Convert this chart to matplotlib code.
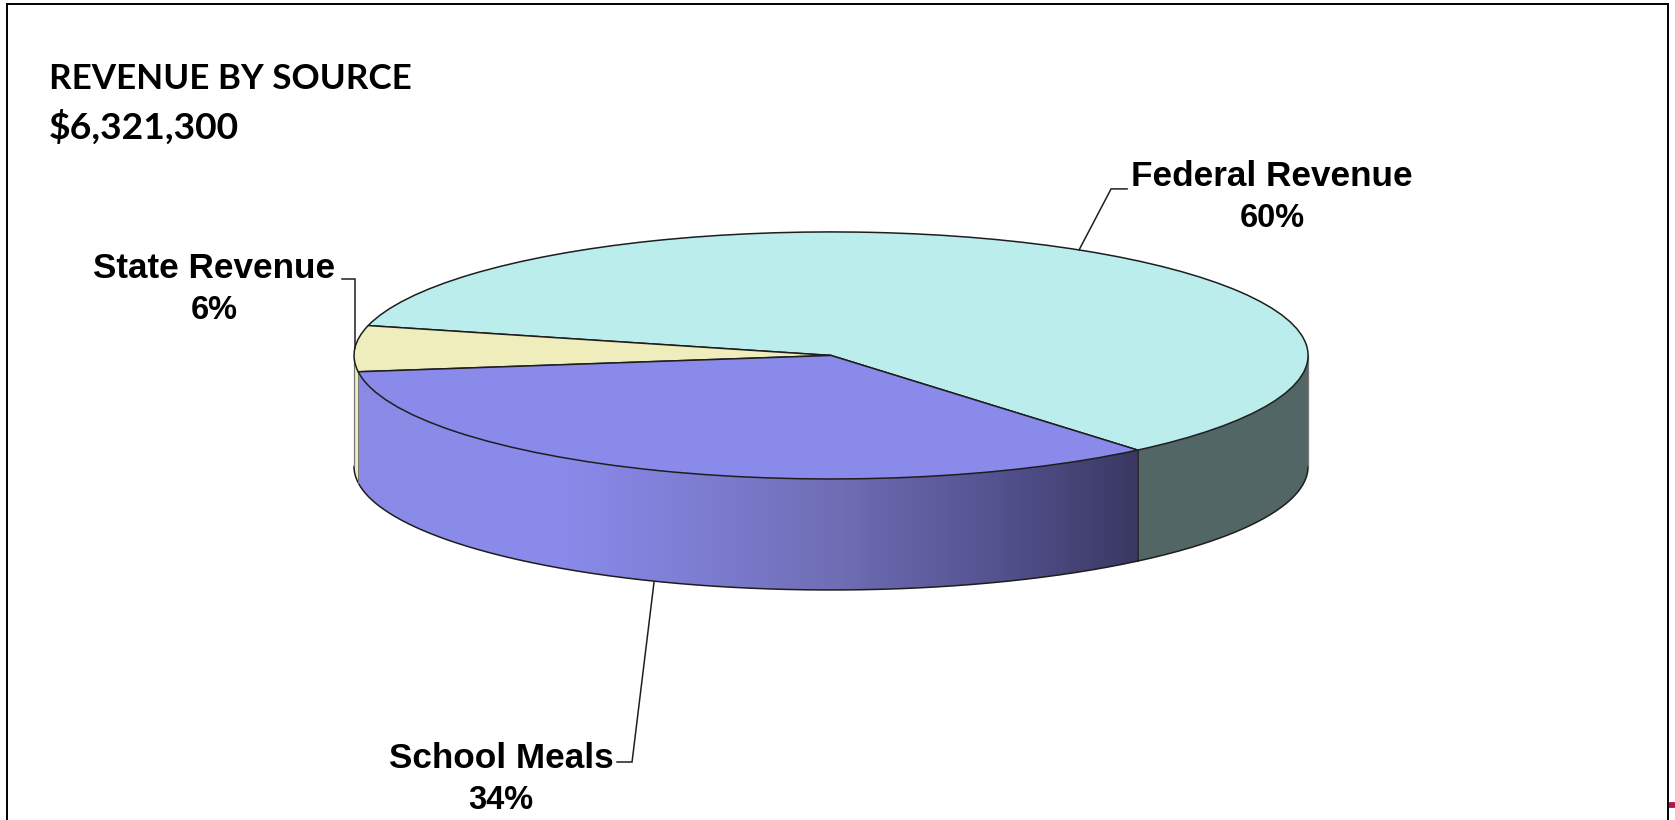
import numpy as np
import matplotlib.pyplot as plt
from matplotlib.colors import LinearSegmentedColormap
from matplotlib.patches import Polygon

labels = ['Federal Revenue', 'State Revenue', 'School Meals']
shares = [60, 6, 34]
top_colors = ['#BBEDED', '#EEEDBB', '#8A8AEB']
title_lines = ['REVENUE BY SOURCE', '$6,321,300']

W, H = 1675, 820
START_ANGLE = -50
cx, cy = 831, 355.5
rx, ry = 477, 123.5
depth = 111

fig = plt.figure(figsize=((W + 0.1) / 100, (H + 0.1) / 100), dpi=100, facecolor='white')

# pixel-space axes for the side wall, frame, leaders and text
ax = fig.add_axes([0, 0, 1, 1])
ax.set_xlim(0, W)
ax.set_ylim(H, 0)
ax.axis('off')


def wall_outline(a0, a1):
    t = np.radians(np.linspace(a0, a1, 200))
    x = cx + rx * np.cos(t)
    y = cy - ry * np.sin(t)
    return np.r_[x, x[::-1]], np.r_[y, y[::-1] + depth]


# slice boundaries come from the shares
edges = START_ANGLE + np.cumsum([0] + shares) * 3.6
fed_end, state_end, meals_end = edges[1], edges[2], edges[3]

# federal wall, flat dark teal
x, y = wall_outline(START_ANGLE, 0)
ax.add_patch(Polygon(np.c_[x, y], closed=True, fc='#526665', ec='none', zorder=2))

# state wall, only a sliver is visible on the left
x, y = wall_outline(180, state_end)
ax.add_patch(Polygon(np.c_[x, y], closed=True, fc='#EEEDBB', ec='none', zorder=2))

# school meals wall with a horizontal shade
x, y = wall_outline(state_end, meals_end)
meals_poly = Polygon(np.c_[x, y], closed=True, fc='none', ec='none', zorder=2)
ax.add_patch(meals_poly)
shade = LinearSegmentedColormap.from_list('meals', [
    (0.00, '#8A8AE6'), (0.25, '#8B8BEC'), (0.40, '#8080D8'),
    (0.62, '#6F6DB4'), (0.82, '#54528F'), (1.00, '#3A3862')])
img = ax.imshow(np.linspace(0, 1, 512)[None, :], cmap=shade, aspect='auto',
                extent=[x.min(), x.max(), y.max(), y.min()], zorder=2)
img.set_clip_path(meals_poly)
ax.set_xlim(0, W)
ax.set_ylim(H, 0)

# wall outlines
t = np.radians(np.linspace(180, 360, 400))
ax.plot(cx + rx * np.cos(t), cy - ry * np.sin(t) + depth, color='#1E1E1E', lw=1.1, zorder=3)
ax.plot([cx - rx, cx - rx], [cy, cy + depth], color='#777777', lw=0.9, zorder=3)
ax.plot([cx + rx, cx + rx], [cy, cy + depth], color='#777777', lw=0.9, zorder=3)
bx = cx + rx * np.cos(np.radians(START_ANGLE))
by = cy - ry * np.sin(np.radians(START_ANGLE))
ax.plot([bx, bx], [by, by + depth], color='#1E1E1E', lw=1.1, zorder=3)
sx = cx + rx * np.cos(np.radians(state_end))
sy = cy - ry * np.sin(np.radians(state_end))
ax.plot([sx, sx], [sy, sy + depth], color='#777777', lw=0.7, zorder=3)

# top face: a pie stretched into the ellipse box
pie_ax = fig.add_axes([(cx - rx) / W, 1 - (cy + ry) / H, 2 * rx / W, 2 * ry / H])
pie_ax.pie(shares, colors=top_colors, startangle=START_ANGLE, counterclock=True,
           radius=1, wedgeprops=dict(edgecolor='#1E1E1E', linewidth=1.1))
pie_ax.set_aspect('auto')
pie_ax.set_xlim(-1, 1)
pie_ax.set_ylim(-1, 1)
pie_ax.patch.set_alpha(0)
for art in pie_ax.patches:
    art.set_clip_on(False)

# overlay for text and frame
top = fig.add_axes([0, 0, 1, 1])
top.set_xlim(0, W)
top.set_ylim(H, 0)
top.axis('off')

# page frame and the small red mark in the corner
top.plot([6.5, 6.5, 1668, 1668], [H, 4.5, 4.5, H], color='black', lw=1.4, solid_joinstyle='miter')
top.plot([1669, W], [805, 805], color='#B5134B', lw=4.2, solid_capstyle='butt')

# leader lines
leader = dict(color='#1E1E1E', lw=1.1, solid_joinstyle='miter')
top.plot([1079, 1111, 1127], [250, 189, 189], **leader)
top.plot([342, 355, 355], [279, 279, 348], **leader)
top.plot([654, 632, 617], [582, 762, 762], **leader)

# title block
for line, yy, size in zip(title_lines, [79, 127], [25.2, 26.8]):
    top.text(49, yy, line, family='Lato', fontweight='bold', fontsize=size,
             color='black', ha='left', va='center')

# slice labels
label_pos = [(1272, 176, 218), (214, 268, 310), (501, 758, 800)]
for name, share, (lx, y0, y1) in zip(labels, shares, label_pos):
    top.text(lx, y0, name, family='Liberation Sans', fontweight='bold', fontsize=25.3,
             ha='center', va='center', color='black')
    top.text(lx, y1, f'{share}%', family='Liberation Sans', fontweight='bold', fontsize=23.5,
             ha='center', va='center', color='black')

fig.savefig('out.png', dpi=100)
